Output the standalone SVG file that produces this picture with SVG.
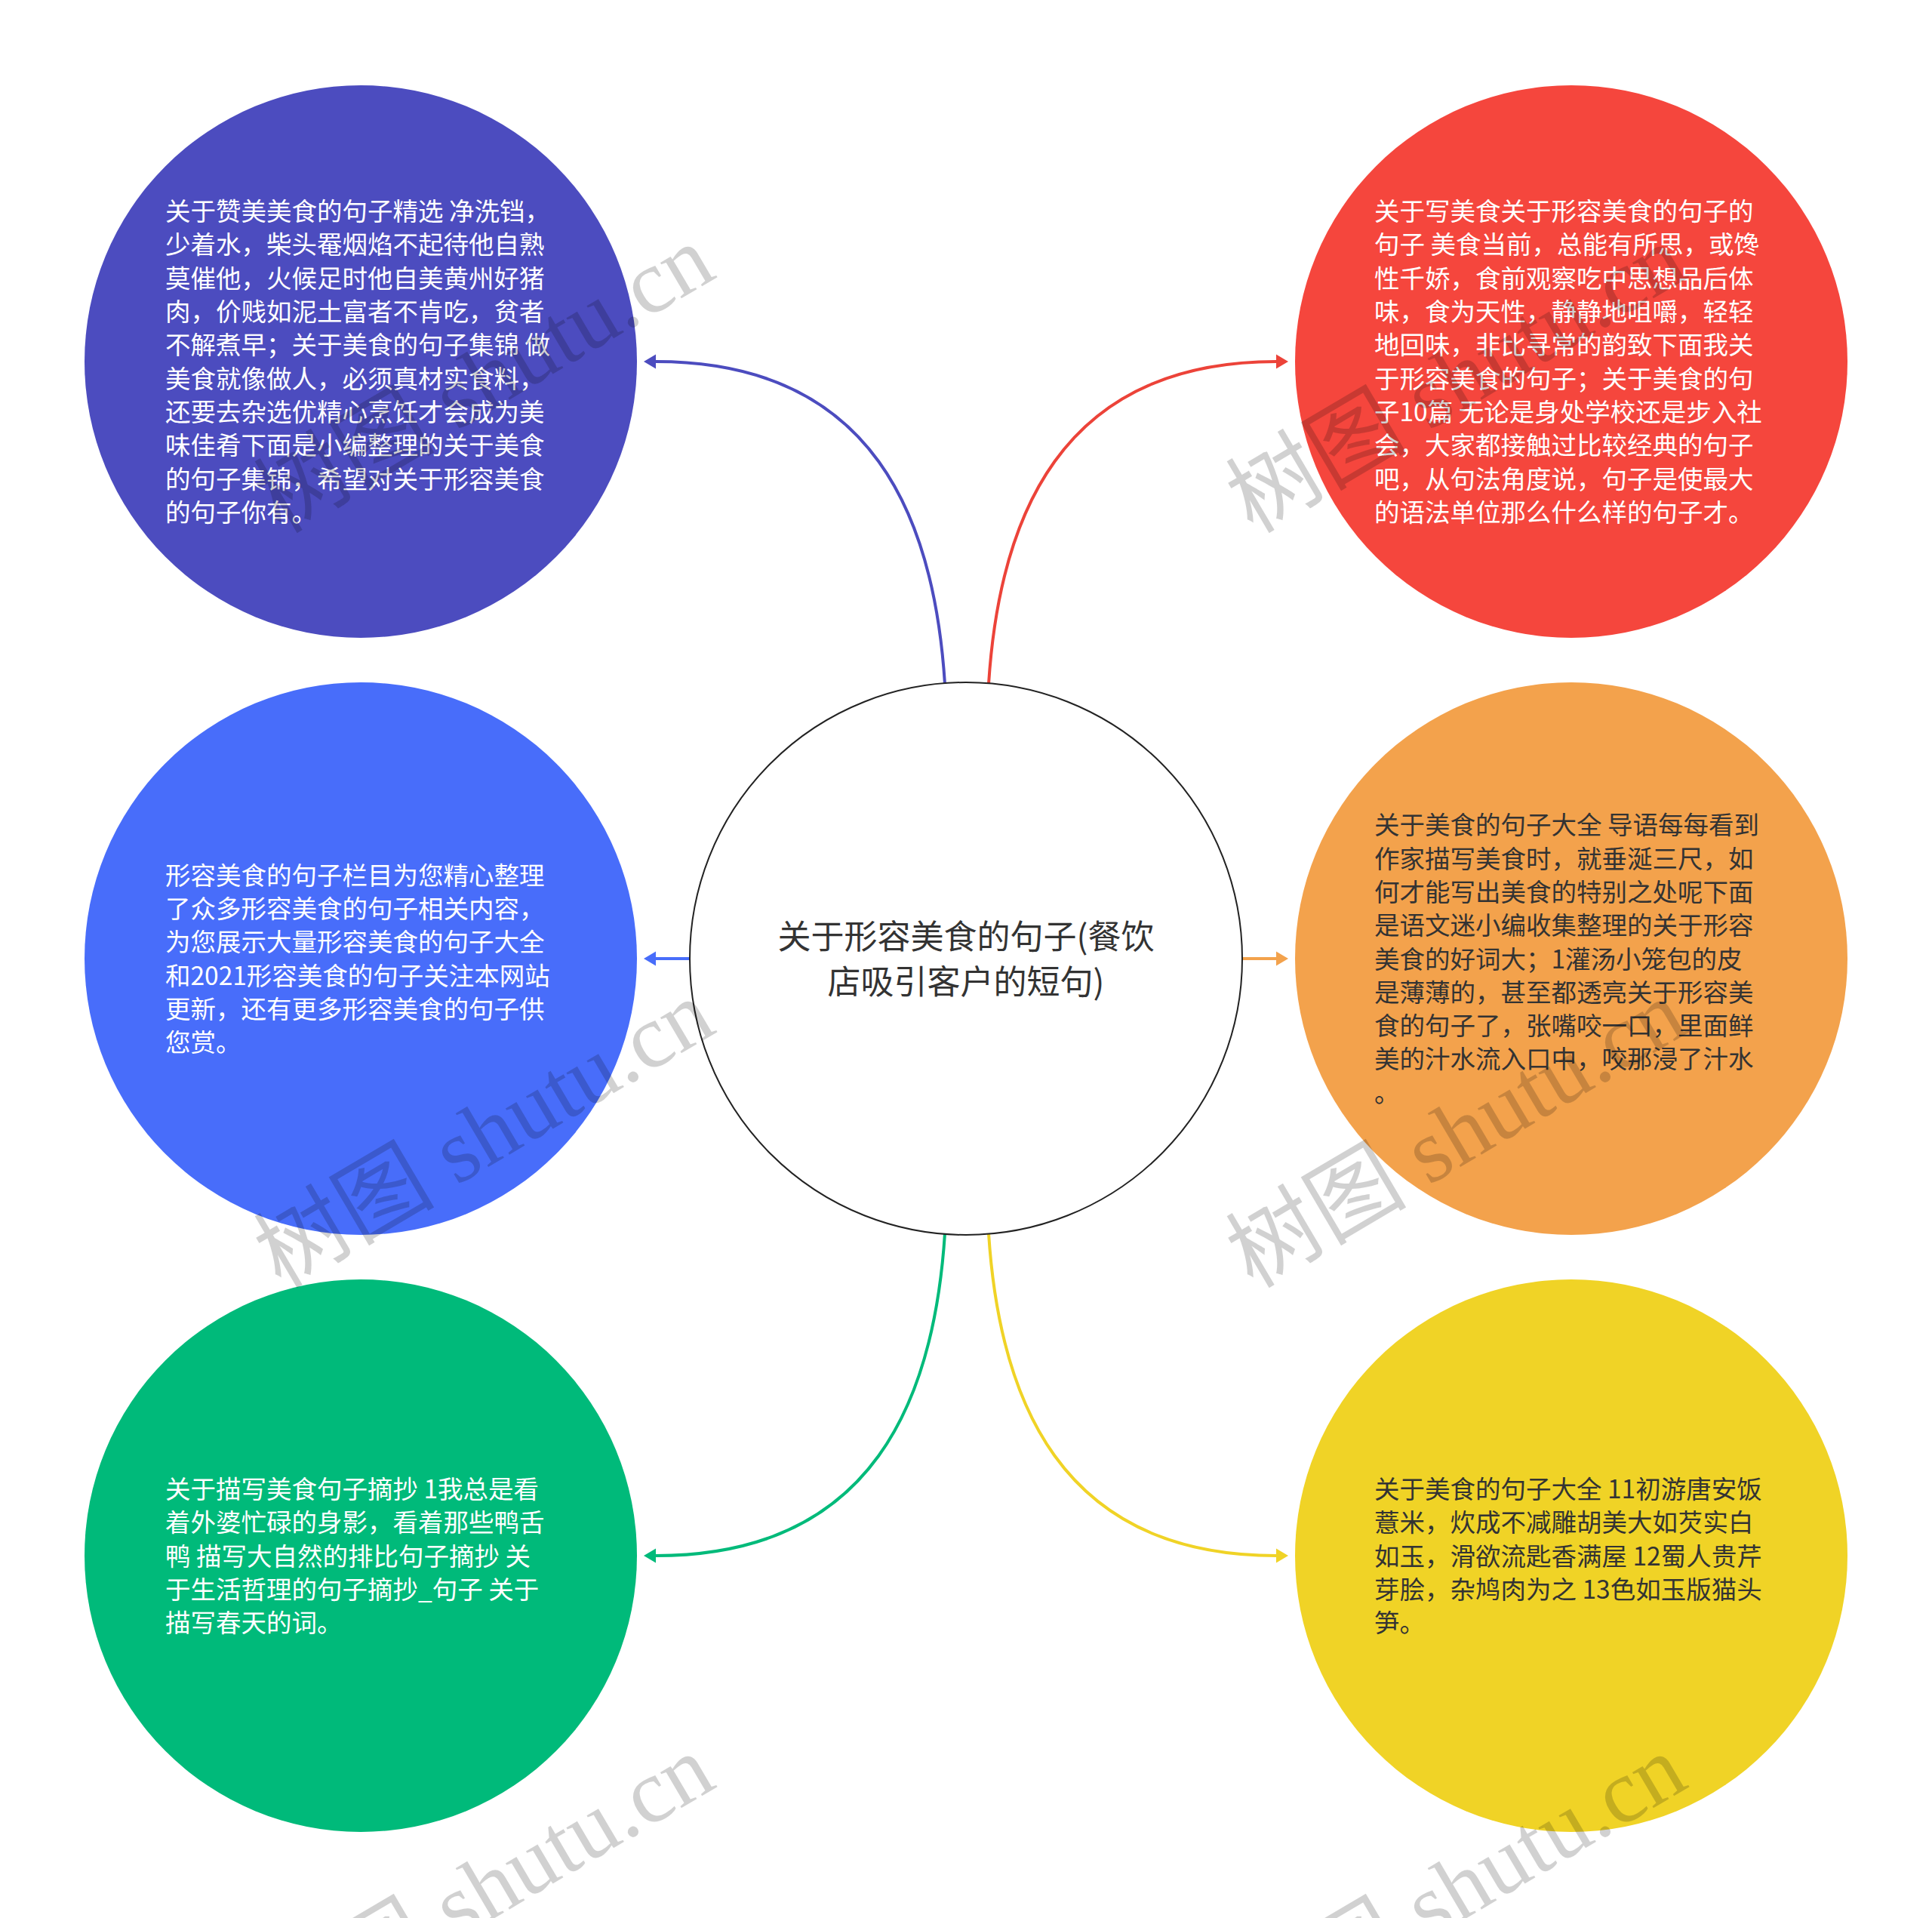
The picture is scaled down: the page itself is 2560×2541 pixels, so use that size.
<svg xmlns="http://www.w3.org/2000/svg" width="2560" height="2541" viewBox="0 0 2560 2541">
<style>
.t{font-family:"Noto Sans CJK SC","Microsoft YaHei",sans-serif;font-size:33.5px}
.w{fill:#ffffff}
.d{fill:#333333}
.c{font-family:"Noto Sans CJK SC",sans-serif;font-size:44px;fill:#333333;text-anchor:middle}
.ln{fill:none;stroke-width:4}
.wm{font-family:"Liberation Serif","Noto Sans CJK SC",serif;font-size:120px;fill:#000000;fill-opacity:0.18}
</style>
<defs>
<marker id="m1" markerUnits="userSpaceOnUse" markerWidth="18" markerHeight="22" refX="0" refY="10" orient="auto" overflow="visible"><path d="M0,0.5 L16,10 L0,19.5 z" fill="#4c4cbf"/></marker>
<marker id="m2" markerUnits="userSpaceOnUse" markerWidth="18" markerHeight="22" refX="0" refY="10" orient="auto" overflow="visible"><path d="M0,0.5 L16,10 L0,19.5 z" fill="#ec4339"/></marker>
<marker id="m3" markerUnits="userSpaceOnUse" markerWidth="18" markerHeight="22" refX="0" refY="10" orient="auto" overflow="visible"><path d="M0,0.5 L16,10 L0,19.5 z" fill="#486dfa"/></marker>
<marker id="m4" markerUnits="userSpaceOnUse" markerWidth="18" markerHeight="22" refX="0" refY="10" orient="auto" overflow="visible"><path d="M0,0.5 L16,10 L0,19.5 z" fill="#f3a24c"/></marker>
<marker id="m5" markerUnits="userSpaceOnUse" markerWidth="18" markerHeight="22" refX="0" refY="10" orient="auto" overflow="visible"><path d="M0,0.5 L16,10 L0,19.5 z" fill="#00ba7a"/></marker>
<marker id="m6" markerUnits="userSpaceOnUse" markerWidth="18" markerHeight="22" refX="0" refY="10" orient="auto" overflow="visible"><path d="M0,0.5 L16,10 L0,19.5 z" fill="#f0d326"/></marker>
</defs>
<rect x="0" y="0" width="2560" height="2541" fill="#ffffff"/>
<g id="connectors">
<path class="ln" stroke="#4c4cbf" d="M1252,906 C1238,690 1160,479 869,479" marker-end="url(#m1)"/>
<path class="ln" stroke="#ec4339" d="M1310,906 C1324,690 1402,479 1691,479" marker-end="url(#m2)"/>
<path class="ln" stroke="#486dfa" d="M914,1270 L869,1270" marker-end="url(#m3)"/>
<path class="ln" stroke="#f3a24c" d="M1646,1270 L1691,1270" marker-end="url(#m4)"/>
<path class="ln" stroke="#00ba7a" d="M1252,1634 C1238,1850 1160,2061 869,2061" marker-end="url(#m5)"/>
<path class="ln" stroke="#f0d326" d="M1310,1634 C1324,1850 1402,2061 1691,2061" marker-end="url(#m6)"/>
</g>
<g id="center">
<circle cx="1280" cy="1270" r="366" fill="#ffffff" stroke="#222222" stroke-width="2"/>
<text class="c" x="1280" y="1257">关于形容美食的句子(餐饮</text>
<text class="c" x="1280" y="1317">店吸引客户的短句)</text>
</g>
<g id="node-tl">
<circle cx="478" cy="479" r="366" fill="#4c4cbf"/>
<text class="t w" x="219" y="292">关于赞美美食的句子精选 净洗铛，</text>
<text class="t w" x="219" y="336">少着水，柴头罨烟焰不起待他自熟</text>
<text class="t w" x="219" y="381">莫催他，火候足时他自美黄州好猪</text>
<text class="t w" x="219" y="425">肉，价贱如泥土富者不肯吃，贫者</text>
<text class="t w" x="219" y="469">不解煮早；关于美食的句子集锦 做</text>
<text class="t w" x="219" y="514">美食就像做人，必须真材实食料，</text>
<text class="t w" x="219" y="558">还要去杂选优精心烹饪才会成为美</text>
<text class="t w" x="219" y="602">味佳肴下面是小编整理的关于美食</text>
<text class="t w" x="219" y="647">的句子集锦，希望对关于形容美食</text>
<text class="t w" x="219" y="691">的句子你有。</text>
</g>
<g id="node-tr">
<circle cx="2082" cy="479" r="366" fill="#f5463d"/>
<text class="t w" x="1821" y="292">关于写美食关于形容美食的句子的</text>
<text class="t w" x="1821" y="336">句子 美食当前，总能有所思，或馋</text>
<text class="t w" x="1821" y="381">性千娇，食前观察吃中思想品后体</text>
<text class="t w" x="1821" y="425">味，食为天性，静静地咀嚼，轻轻</text>
<text class="t w" x="1821" y="469">地回味，非比寻常的韵致下面我关</text>
<text class="t w" x="1821" y="514">于形容美食的句子；关于美食的句</text>
<text class="t w" x="1821" y="558">子10篇 无论是身处学校还是步入社</text>
<text class="t w" x="1821" y="602">会，大家都接触过比较经典的句子</text>
<text class="t w" x="1821" y="647">吧，从句法角度说，句子是使最大</text>
<text class="t w" x="1821" y="691">的语法单位那么什么样的句子才。</text>
</g>
<g id="node-ml">
<circle cx="478" cy="1270" r="366" fill="#486dfa"/>
<text class="t w" x="219" y="1172">形容美食的句子栏目为您精心整理</text>
<text class="t w" x="219" y="1216">了众多形容美食的句子相关内容，</text>
<text class="t w" x="219" y="1260">为您展示大量形容美食的句子大全</text>
<text class="t w" x="219" y="1305">和2021形容美食的句子关注本网站</text>
<text class="t w" x="219" y="1349">更新，还有更多形容美食的句子供</text>
<text class="t w" x="219" y="1393">您赏。</text>
</g>
<g id="node-mr">
<circle cx="2082" cy="1270" r="366" fill="#f3a24c"/>
<text class="t d" x="1821" y="1105">关于美食的句子大全 导语每每看到</text>
<text class="t d" x="1821" y="1150">作家描写美食时，就垂涎三尺，如</text>
<text class="t d" x="1821" y="1194">何才能写出美食的特别之处呢下面</text>
<text class="t d" x="1821" y="1238">是语文迷小编收集整理的关于形容</text>
<text class="t d" x="1821" y="1283">美食的好词大；1灌汤小笼包的皮</text>
<text class="t d" x="1821" y="1327">是薄薄的，甚至都透亮关于形容美</text>
<text class="t d" x="1821" y="1371">食的句子了，张嘴咬一口，里面鲜</text>
<text class="t d" x="1821" y="1415">美的汁水流入口中，咬那浸了汁水</text>
<text class="t d" x="1821" y="1460">。</text>
</g>
<g id="node-bl">
<circle cx="478" cy="2061" r="366" fill="#00ba7a"/>
<text class="t w" x="219" y="1985">关于描写美食句子摘抄 1我总是看</text>
<text class="t w" x="219" y="2029">着外婆忙碌的身影，看着那些鸭舌</text>
<text class="t w" x="219" y="2074">鸭 描写大自然的排比句子摘抄 关</text>
<text class="t w" x="219" y="2118">于生活哲理的句子摘抄_句子 关于</text>
<text class="t w" x="219" y="2162">描写春天的词。</text>
</g>
<g id="node-br">
<circle cx="2082" cy="2061" r="366" fill="#f0d326"/>
<text class="t d" x="1821" y="1985">关于美食的句子大全 11初游唐安饭</text>
<text class="t d" x="1821" y="2029">薏米，炊成不减雕胡美大如芡实白</text>
<text class="t d" x="1821" y="2074">如玉，滑欲流匙香满屋 12蜀人贵芹</text>
<text class="t d" x="1821" y="2118">芽脍，杂鸠肉为之 13色如玉版猫头</text>
<text class="t d" x="1821" y="2162">笋。</text>
</g>
<g id="watermarks">
<text class="wm" transform="translate(372,708) rotate(-30.5)">树图 shutu.cn</text>
<text class="wm" transform="translate(1660,708) rotate(-30.5)">树图 shutu.cn</text>
<text class="wm" transform="translate(372,1708) rotate(-30.5)">树图 shutu.cn</text>
<text class="wm" transform="translate(1660,1708) rotate(-30.5)">树图 shutu.cn</text>
<text class="wm" transform="translate(372,2708) rotate(-30.5)">树图 shutu.cn</text>
<text class="wm" transform="translate(1660,2708) rotate(-30.5)">树图 shutu.cn</text>
</g>
</svg>
